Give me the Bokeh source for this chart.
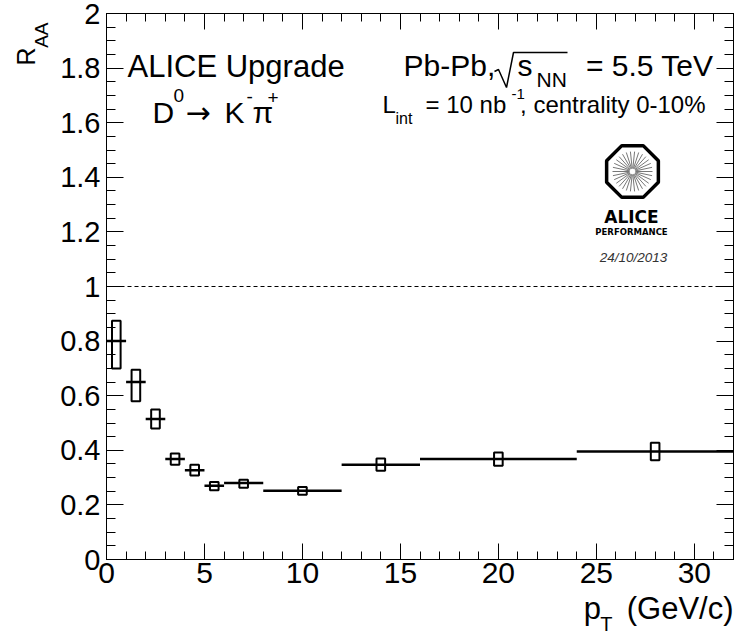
import numpy as np
from bokeh.plotting import figure
from bokeh.models import Range1d, LinearAxis, FixedTicker, Span, Label, Title, ColumnDataSource
from bokeh.embed import file_html
from bokeh.resources import INLINE

# D0 nuclear modification factor vs pT, Pb-Pb 5.5 TeV, centrality 0-10%
pt_low = [0, 1, 2, 3, 4, 5, 6, 8, 12, 16, 24]
pt_high = [1, 2, 3, 4, 5, 6, 8, 12, 16, 24, 32]
pt_center = [0.5, 1.5, 2.5, 3.5, 4.5, 5.5, 7.0, 10.0, 14.0, 20.0, 28.0]
raa = [0.80, 0.65, 0.515, 0.368, 0.327, 0.270, 0.280, 0.252, 0.347, 0.368, 0.396]
syst_low = [0.70, 0.58, 0.48, 0.347, 0.308, 0.254, 0.263, 0.237, 0.325, 0.343, 0.364]
syst_high = [0.875, 0.695, 0.549, 0.388, 0.347, 0.284, 0.292, 0.266, 0.370, 0.392, 0.428]

x_ticks = [0, 5, 10, 15, 20, 25, 30]
x_minor = list(range(0, 33))
y_ticks = [0, 0.2, 0.4, 0.6, 0.8, 1, 1.2, 1.4, 1.6, 1.8, 2]
y_tick_labels = ["0", "0.2", "0.4", "0.6", "0.8", "1", "1.2", "1.4", "1.6", "1.8", "2"]
y_minor = [round(0.05 * i, 2) for i in range(41)]

W, H = 735, 633
LEFT, RIGHT, TOP, BOTTOM = 106, 2, 13, 74
XMAX, YMAX = 32, 2
FONT = "Liberation Sans"
BOX_HALF = 0.22

p = figure(width=W, height=H, x_range=Range1d(0, XMAX), y_range=Range1d(0, YMAX),
           output_backend="svg", toolbar_location=None,
           x_axis_type=None, y_axis_type=None,
           min_border_left=LEFT, min_border_right=RIGHT,
           min_border_top=TOP, min_border_bottom=BOTTOM)
p.xgrid.visible = False
p.ygrid.visible = False
p.outline_line_color = "black"
p.outline_line_width = 1
p.background_fill_color = "white"
p.border_fill_color = "white"


def axis(ticker, shown, size, standoff, tin, tmin, overrides=None):
    ax = LinearAxis(ticker=ticker,
                    major_tick_in=tin, major_tick_out=0,
                    minor_tick_in=tmin, minor_tick_out=0,
                    axis_line_color="black", major_tick_line_color="black",
                    minor_tick_line_color="black",
                    major_label_standoff=standoff)
    if shown:
        ax.major_label_text_font = FONT
        ax.major_label_text_font_size = size
        ax.major_label_text_color = "black"
    else:
        ax.major_label_text_font_size = "0px"
        ax.major_label_text_alpha = 0
    if overrides:
        ax.major_label_overrides = overrides
    return ax


def title(text, size, align, offset, standoff, valign):
    return Title(text=text, align=align, offset=offset, standoff=standoff,
                 vertical_align=valign, text_font=FONT,
                 text_font_size=f"{size}px", text_font_style="normal",
                 text_color="black")


xt = FixedTicker(ticks=x_ticks, minor_ticks=x_minor)
yt = FixedTicker(ticks=y_ticks, minor_ticks=y_minor)
p.add_layout(axis(xt, True, "30px", 3, 16, 8), "below")
p.add_layout(axis(xt, False, "0px", 0, 16, 8), "above")
p.add_layout(axis(yt, True, "29px", 6, 17, 9,
                  {t: s for t, s in zip(y_ticks, y_tick_labels)}), "left")
p.add_layout(axis(yt, False, "0px", 0, 17, 9), "right")

# axis titles with subscripts, stacked in the side panels
p.add_layout(title("AA", 19, "right", 9, 8, "top"), "left")
p.add_layout(title("R", 25, "right", 34, -26, "bottom"), "left")
p.add_layout(title("p\u00a0\u00a0\u00a0(GeV/c)", 31, "right", 0, 11, "top"), "below")
p.add_layout(title("T", 20, "right", 121, -41, "top"), "below")

# reference line at R_AA = 1
p.add_layout(Span(location=1, dimension="width", line_color="black",
                  line_width=1, line_dash="4 3"))

src = ColumnDataSource(dict(
    lo=pt_low, hi=pt_high, x=pt_center, y=raa,
    bl=[c - BOX_HALF for c in pt_center], br=[c + BOX_HALF for c in pt_center],
    sb=syst_low, st=syst_high))

# systematic boxes and bin-width bars
p.quad(left="bl", right="br", bottom="sb", top="st", source=src,
       fill_color=None, line_color="black", line_width=2)
p.segment(x0="lo", y0="y", x1="hi", y1="y", source=src,
          line_color="black", line_width=2.5)

FRAME_W = W - LEFT - RIGHT
FRAME_H = H - TOP - BOTTOM
SX = FRAME_W / XMAX
SY = FRAME_H / YMAX
BASE_SHIFT = 0.35  # label anchor sits this many em below the glyph baseline


def to_data(px, py):
    return (px - LEFT) / SX, (TOP + FRAME_H - py) / SY


def put(text, px, py, size, align="left", style="normal",
        font=FONT, color="black"):
    y = py - BASE_SHIFT * size
    p.add_layout(Label(x=px - LEFT, y=TOP + FRAME_H - y,
                       x_units="screen", y_units="screen",
                       text=text, text_font=font,
                       text_font_size=f"{size}px", text_font_style=style,
                       text_align=align, text_baseline="alphabetic",
                       text_color=color))


# header texts
put("ALICE Upgrade", 127, 77, 31)
put("D", 152, 122, 30)
put("0", 173, 102, 19)
put("\u2192", 185, 122, 30, font="DejaVu Sans")
put("K", 224, 122, 30)
put("-", 246, 103, 19)
put("\u03c0", 252, 122, 30)
put("+", 267, 104, 19)

put("Pb-Pb,", 403, 75, 30)
rx, ry = zip(*[to_data(*q) for q in [(494, 71), (498, 69), (506, 87), (513, 52), (567, 52)]])
p.line(list(rx), list(ry), line_color="black", line_width=1.5)
put("s", 517, 75, 30)
put("NN", 536, 86, 21)
put("= 5.5 TeV", 713, 75, 30, align="right")

put("L", 382, 112, 24)
put("int", 395, 124, 16)
put("= 10 nb", 425, 112, 24)
put("-1", 511, 99, 15)
put(", centrality 0-10%", 705, 112, 24, align="right")

# experiment logo
cx, cy = 632, 171
R_OCT = 28
ang = np.deg2rad(22.5 + 45 * np.arange(8))
ox = (cx + R_OCT * np.cos(ang) - LEFT) / SX
oy = (TOP + FRAME_H - (cy - R_OCT * np.sin(ang))) / SY
p.patch(list(ox), list(oy), fill_color="white", line_color="black", line_width=3.5)
sp = np.deg2rad(np.arange(0, 360, 12))
x0 = (cx + 3 * np.cos(sp) - LEFT) / SX
y0 = (TOP + FRAME_H - (cy - 3 * np.sin(sp))) / SY
x1 = (cx + 20 * np.cos(sp) - LEFT) / SX
y1 = (TOP + FRAME_H - (cy - 20 * np.sin(sp))) / SY
p.segment(x0=list(x0), y0=list(y0), x1=list(x1), y1=list(y1),
          line_color="#777777", line_width=1)
put("ALICE", 631, 222, 17, align="center", style="bold", font="DejaVu Sans")
put("PERFORMANCE", 631, 234, 8.5, align="center", style="bold", font="DejaVu Sans")
put("24/10/2013", 633, 262, 13.5, align="center", style="italic", color="#333333")

open("out.html", "w").write(file_html(p, INLINE))
